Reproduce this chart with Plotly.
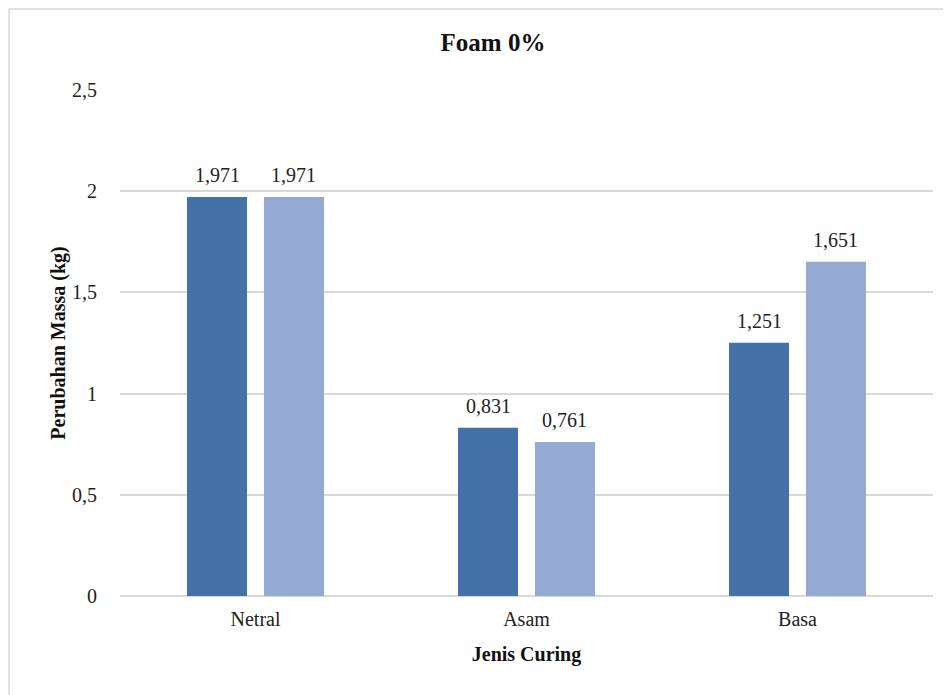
import plotly.graph_objects as go

categories = ["Netral", "Asam", "Basa"]
series_a = [1.971, 0.831, 1.251]
series_b = [1.971, 0.761, 1.651]
tick_vals = [0, 0.5, 1, 1.5, 2, 2.5]
tick_text = ["0", "0,5", "1", "1,5", "2", "2,5"]

FONT = "Liberation Serif, Times New Roman, serif"

W, H = 951, 695
ML, MR, MT, MB = 112, 26, 82, 107
BARGAP, BARGROUPGAP = 0.432, 0.22

fig = go.Figure()
fig.add_trace(go.Bar(x=categories, y=series_a, name="A",
                     marker=dict(color="#4472A8", line=dict(width=0))))
fig.add_trace(go.Bar(x=categories, y=series_b, name="B",
                     marker=dict(color="#95AAD3", line=dict(width=0))))

# value labels above the bars (offset to each bar's slot in the group)
plot_w = W - ML - MR
slot = plot_w / len(categories) * (1 - BARGAP) / 2
annotations = []
for series, shift in ((series_a, -slot / 2), (series_b, slot / 2)):
    for cat, val in zip(categories, series):
        annotations.append(dict(x=cat, y=val, xref="x", yref="y",
                                text=f"{val:.3f}".replace(".", ","),
                                showarrow=False, xanchor="center", yanchor="bottom",
                                xshift=shift, yshift=9,
                                font=dict(family=FONT, size=20, color="#222")))

fig.update_layout(
    width=W, height=H,
    separators=",.",
    paper_bgcolor="white", plot_bgcolor="white",
    showlegend=False,
    barmode="group", bargap=BARGAP, bargroupgap=BARGROUPGAP,
    margin=dict(l=ML, r=MR, t=MT, b=MB),
    font=dict(family=FONT, size=20, color="#222"),
    title=dict(text="<b>Foam 0%</b>", x=0.51, xanchor="center", y=0.951, yanchor="middle",
               font=dict(family=FONT, size=25, color="#111")),
    xaxis=dict(title=dict(text="<b>Jenis Curing</b>", font=dict(family=FONT, size=20, color="#111"), standoff=17),
               showgrid=False, showline=False, ticks="outside", ticklen=5, tickcolor="rgba(0,0,0,0)",
               tickfont=dict(family=FONT, size=20, color="#222")),
    yaxis=dict(title=dict(text="<b>Perubahan Massa (kg)</b>", font=dict(family=FONT, size=20, color="#111"), standoff=1),
               range=[0, 2.5], tickvals=tick_vals, ticktext=tick_text,
               showgrid=True, gridcolor="#d9d9d9", gridwidth=1.5,
               zeroline=True, zerolinecolor="#d9d9d9", zerolinewidth=2,
               ticks="outside", ticklen=18, tickcolor="rgba(0,0,0,0)",
               tickfont=dict(family=FONT, size=20, color="#222")),
    annotations=annotations,
    shapes=[dict(type="rect", xref="paper", yref="paper",
                 x0=-0.1365, x1=1.1, y0=-0.3, y1=1.160,
                 line=dict(color="#d9d9d9", width=1.5), layer="below")],
)

fig.write_html("out.html")
